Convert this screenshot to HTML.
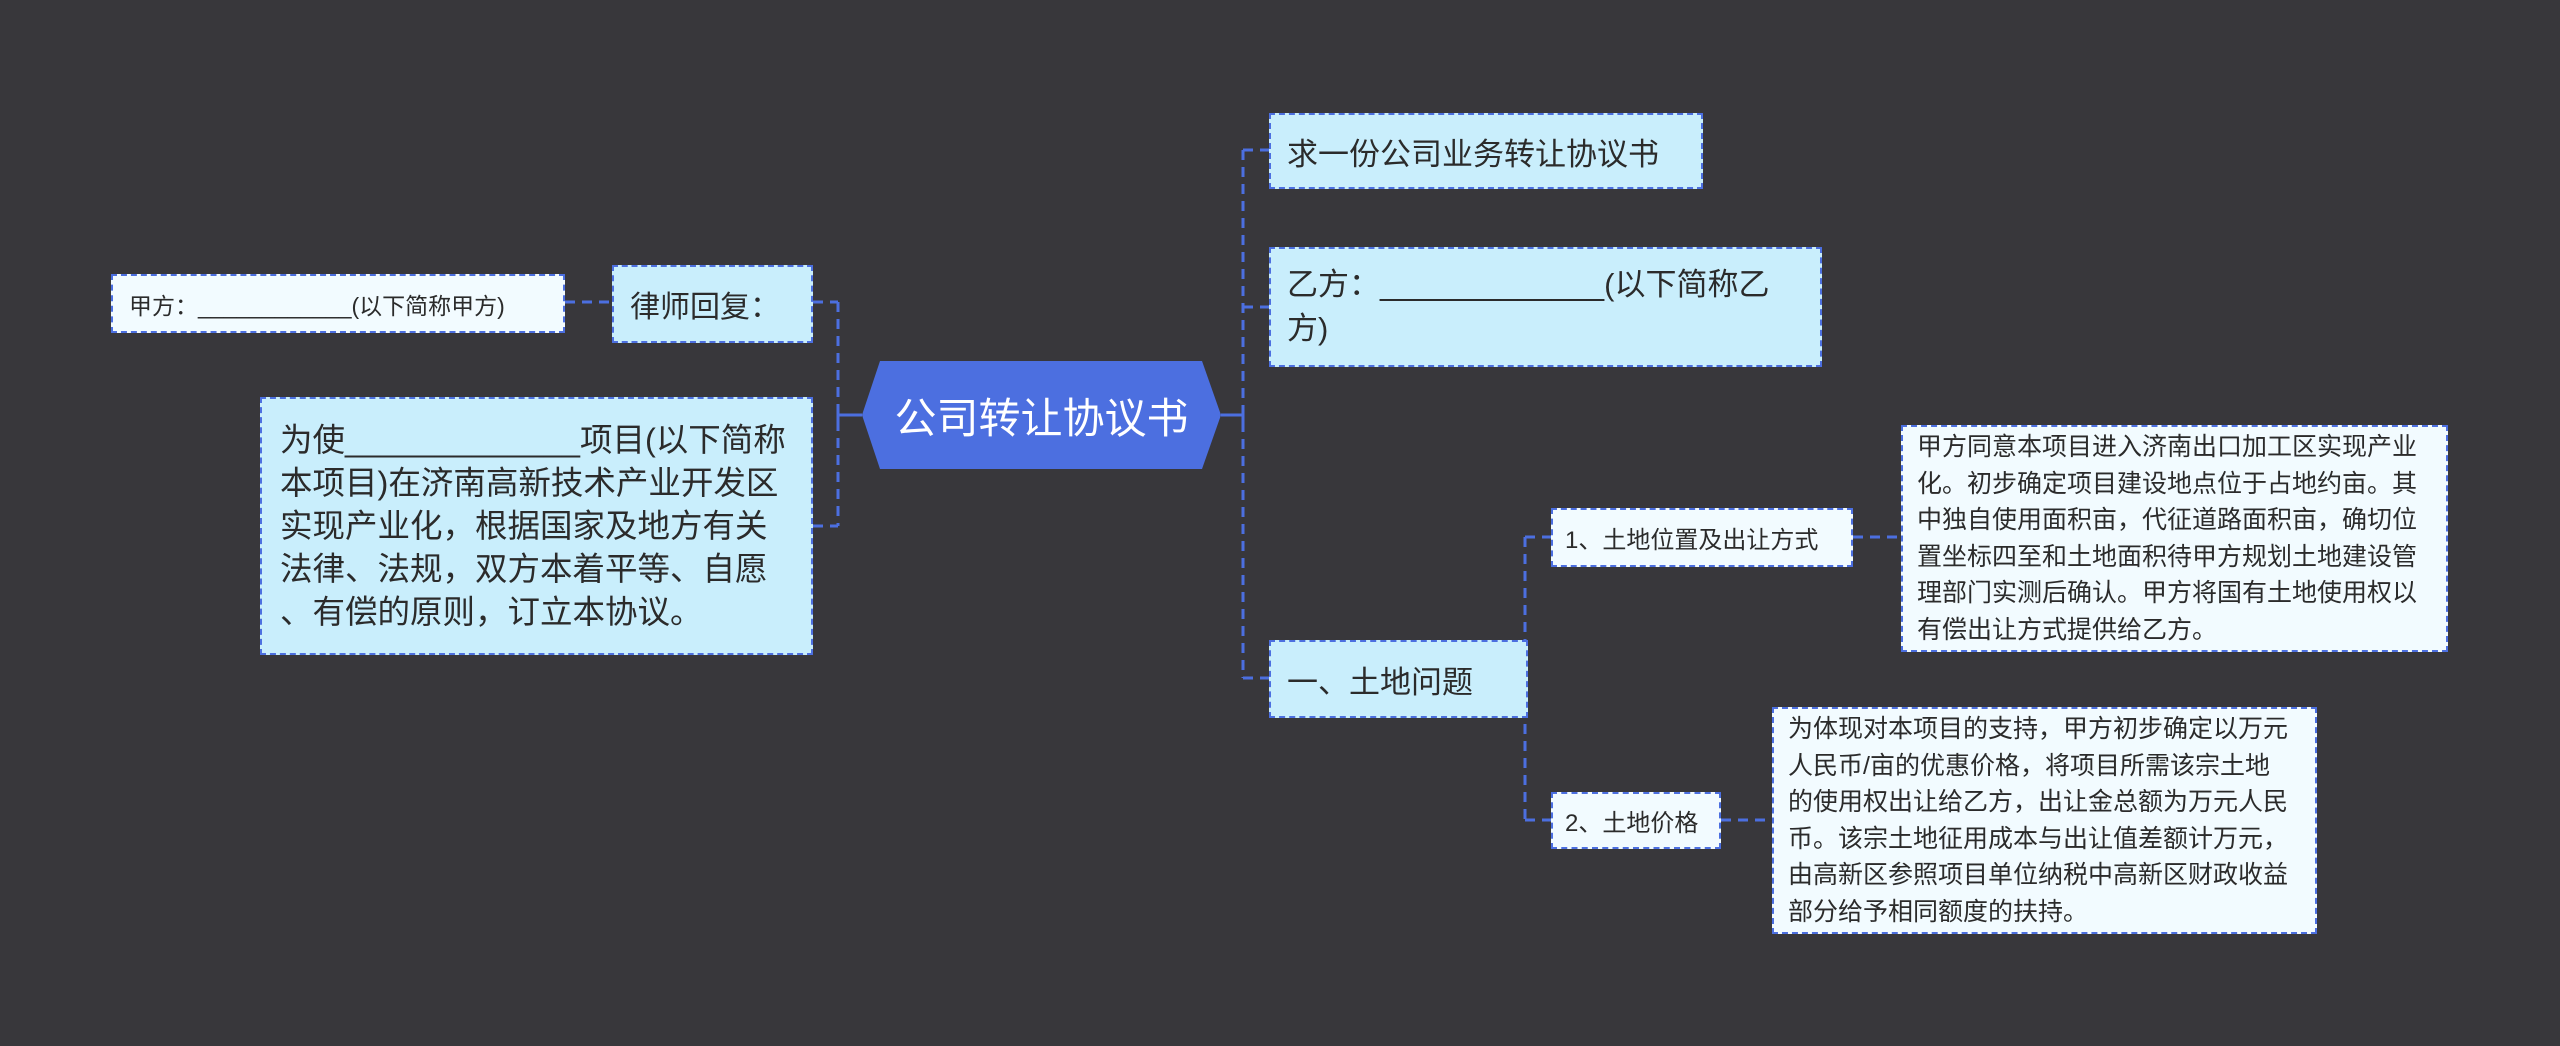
<!DOCTYPE html>
<html><head><meta charset="utf-8">
<style>
html,body{margin:0;padding:0;}
body{width:2560px;height:1046px;background:#38373b;position:relative;overflow:hidden;font-family:"Liberation Sans","Noto Sans CJK SC",sans-serif;}
.b{position:absolute;box-sizing:border-box;background:#c9eefc;border:2px dashed #4c6fe0;color:#2b2b2b;padding:0 16px;display:flex;align-items:center;}
.w{background:#f2fbff;}
.nw{white-space:nowrap;}
svg{position:absolute;left:0;top:0;}
.root{position:absolute;left:862px;top:361px;width:359px;height:108px;display:flex;align-items:center;justify-content:center;color:#fff;font-size:42px;}
</style></head><body>
<svg width="2560" height="1046">
<g stroke="#4c6fe0" stroke-width="3" fill="none" stroke-dasharray="10,7">
<path d="M838 302 V526"/>
<path d="M813 302 H838 M813 526 H838"/>
<path d="M565 302 H612"/>
<path d="M1243 150 V678"/>
<path d="M1243 150 H1269 M1243 307 H1269 M1243 678 H1269"/>
<path d="M1525 537 V820 M1525 537 H1551 M1525 820 H1551 M1528 678 H1525"/>
<path d="M1853 537 H1901 M1721 820 H1772"/>
</g>
<g stroke="#4c6fe0" stroke-width="3">
<path d="M838 415 H862 M1221 415 H1243"/>
<path d="M838 405 V425 M1243 405 V425"/>
</g>
<polygon points="880,361 1202,361 1221,415 1202,469 880,469 862,415" fill="#4c6fe0"/>
</svg>
<div class="root">公司转让协议书</div>
<div class="b" style="left:612px;top:265px;width:201px;height:78px;font-size:30px;">律师回复：</div>
<div class="b w" style="left:111px;top:274px;width:454px;height:59px;font-size:23px;">甲方：____________(以下简称甲方)</div>
<div class="b nw" style="left:260px;top:397px;width:553px;height:258px;font-size:32.5px;line-height:43px;padding:0 18px;"><div>为使_____________项目(以下简称<br>本项目)在济南高新技术产业开发区<br>实现产业化，根据国家及地方有关<br>法律、法规，双方本着平等、自愿<br>、有偿的原则，订立本协议。</div></div>
<div class="b" style="left:1269px;top:113px;width:434px;height:76px;font-size:31px;">求一份公司业务转让协议书</div>
<div class="b" style="left:1269px;top:247px;width:553px;height:120px;font-size:31px;line-height:44px;">乙方：_____________(以下简称乙方)</div>
<div class="b" style="left:1269px;top:640px;width:259px;height:78px;font-size:31px;">一、土地问题</div>
<div class="b w" style="left:1551px;top:508px;width:302px;height:59px;font-size:24px;padding:0 12px;">1、土地位置及出让方式</div>
<div class="b w" style="left:1551px;top:792px;width:170px;height:57px;font-size:24px;padding:0 12px;">2、土地价格</div>
<div class="b w" style="left:1901px;top:425px;width:547px;height:227px;font-size:25px;line-height:36.5px;padding:0 14px;">甲方同意本项目进入济南出口加工区实现产业化。初步确定项目建设地点位于占地约亩。其中独自使用面积亩，代征道路面积亩，确切位置坐标四至和土地面积待甲方规划土地建设管理部门实测后确认。甲方将国有土地使用权以有偿出让方式提供给乙方。</div>
<div class="b w nw" style="left:1772px;top:707px;width:545px;height:227px;font-size:25px;line-height:36.5px;padding:0 14px;"><div>为体现对本项目的支持，甲方初步确定以万元<br>人民币/亩的优惠价格，将项目所需该宗土地<br>的使用权出让给乙方，出让金总额为万元人民<br>币。该宗土地征用成本与出让值差额计万元，<br>由高新区参照项目单位纳税中高新区财政收益<br>部分给予相同额度的扶持。</div></div>
</body></html>
